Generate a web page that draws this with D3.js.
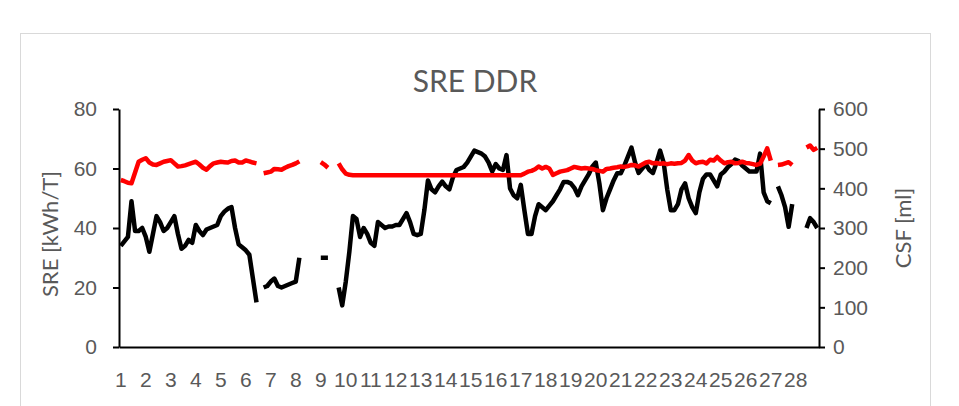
<!DOCTYPE html>
<html>
<head>
<meta charset="UTF-8">
<title>SRE DDR</title>
<script src="https://d3js.org/d3.v7.min.js"></script>
<style>
  body { margin: 0; background: #fff; }
  svg { display: block; font-family: Lato, "Liberation Sans", sans-serif; }
  .axis text { fill: #595959; font-size: 21px; }
  .axis path, .axis line { stroke: #000; stroke-width: 2; }
</style>
</head>
<body>
<div id="chart"></div>
<script>
// week labels on the category axis (one label every 7 days)
const weeks = [1, 2, 3, 4, 5, 6, 7, 8, 9, 10, 11, 12, 13, 14, 15, 16, 17, 18, 19, 20, 21, 22, 23, 24, 25, 26, 27, 28];

// SRE [kWh/T], daily, left axis
const sre = [
  34, 35.5, 37, 49, 39, 39, 40, 37, 32, 38,
  44, 42, 39, 40, 42, 44, 38, 33, 34, 36,
  35, 41, 39, 37.6, 39.5, 40, 40.5, 41, 44, 45.5,
  46.5, 47, 40, 34.5, 33.5, 32.5, 31, 23, 15, null,
  20, 20.5, 22, 23, 20.5, 20, 20.5, 21, 21.5, 22,
  30, null, null, null, null, null, 30, 30, 30, null,
  null, 20, 14, 22, 32, 44, 43, 37, 40, 38,
  35, 34, 42, 41, 40, 40.5, 40.5, 41, 41, 43,
  45, 42, 38, 37.6, 38, 46, 56, 53, 52, 54,
  55.6, 54, 53, 57, 59.5, 60, 60.5, 62, 64, 66,
  65.5, 65, 64, 62, 59, 61.5, 60, 59.5, 64.5, 53.3,
  51, 50, 54.5, 46, 38, 38, 44, 48, 47, 46,
  47.5, 49, 51, 53, 55.5, 55.5, 55, 53.5, 51, 54,
  56, 58, 60.6, 62, 55, 46, 50, 53, 56, 58.4,
  58.4, 61, 64, 67, 62, 58.5, 60, 61.5, 59.5, 58.5,
  62, 66, 62, 53, 46, 46, 48, 53, 55, 50,
  47, 45, 52, 56.5, 58, 58, 56, 54, 58, 59,
  60.5, 61.5, 63, 62.5, 61, 60, 59, 59, 59, 65,
  52, 49, 48.3, null, 54, 51, 47, 40.4, 48, null,
  null, null, 40, 43.3, 42, 40
];

// CSF [ml], daily, right axis
const csf = [
  421, 418, 414, 413, 440, 467, 472, 476, 465, 460,
  459, 463, 467, 469, 471, 463, 455, 456, 458, 461,
  464, 467, 460, 452, 447, 456, 463, 465, 467, 466,
  465, 469, 470, 465, 465, 470, 468, 465, 463, null,
  438, 440, 442, 449, 448, 447, 452, 456, 459, 463,
  468, null, null, null, null, null, 466, 460, 452, null,
  null, 463, 448, 437, 434, 433, 433, 433, 433, 433,
  433, 433, 433, 433, 433, 433, 433, 433, 433, 433,
  433, 433, 433, 433, 433, 433, 433, 433, 433, 433,
  433, 433, 433, 433, 433, 433, 433, 433, 433, 433,
  433, 433, 433, 433, 433, 433, 433, 433, 433, 433,
  433, 433, 433, 437, 442, 444, 448, 455, 450, 454,
  450, 434, 438, 442, 444, 446, 450, 454, 452, 450,
  451, 450, 449, 446, 444, 442, 449, 450, 452, 453,
  455, 454, 456, 459, 458, 455, 460, 465, 467, 463,
  464, 462, 463, 461, 463, 462, 463, 464, 470, 484,
  470, 463, 466, 467, 463, 472, 470, 479, 470, 463,
  466, 467, 463, 464, 467, 464, 463, 461, 459, 462,
  480, 501, 470, null, 459, 460, 463, 466, 459, null,
  null, null, 503, 508, 497, 502
];

const width = 959;
const height = 406;
const marginLeft = 119;
const marginRight = 140;
const marginTop = 109;
const marginBottom = 59;

const svg = d3.select("#chart")
  .append("svg")
  .attr("width", width)
  .attr("height", height);

// chart area frame
svg.append("rect")
  .attr("x", 20.5)
  .attr("y", 33.5)
  .attr("width", 910)
  .attr("height", 420)
  .attr("fill", "#fff")
  .attr("stroke", "#d9d9d9");

const x = d3.scaleBand()
  .domain(d3.range(sre.length))
  .range([marginLeft, width - marginRight]);

const yLeft = d3.scaleLinear()
  .domain([0, 80])
  .range([height - marginBottom, marginTop]);

const yRight = d3.scaleLinear()
  .domain([0, 600])
  .range([height - marginBottom, marginTop]);

const xPos = i => x(i) + x.bandwidth() / 2;

// axes
svg.append("g")
  .attr("class", "axis")
  .attr("transform", `translate(${marginLeft},0)`)
  .call(d3.axisLeft(yLeft).tickValues([0, 20, 40, 60, 80]).tickSize(6).tickSizeOuter(0).tickPadding(16));

svg.append("g")
  .attr("class", "axis")
  .attr("transform", `translate(${width - marginRight},0)`)
  .call(d3.axisRight(yRight).tickValues([0, 100, 200, 300, 400, 500, 600]).tickSize(6).tickSizeOuter(0).tickPadding(8));

const xAxis = d3.axisBottom(x)
  .tickValues(weeks.map((w, k) => k * 7))
  .tickFormat((d, k) => weeks[k])
  .tickSize(0)
  .tickSizeOuter(0)
  .tickPadding(25);

svg.append("g")
  .attr("class", "axis")
  .attr("transform", `translate(0,${height - marginBottom})`)
  .call(xAxis);

// series
const lineSre = d3.line()
  .defined(d => d != null)
  .x((d, i) => xPos(i))
  .y(d => yLeft(d));

const lineCsf = d3.line()
  .defined(d => d != null)
  .x((d, i) => xPos(i))
  .y(d => yRight(d));

svg.append("path")
  .datum(sre)
  .attr("fill", "none")
  .attr("stroke", "#000")
  .attr("stroke-width", 4.5)
  .attr("stroke-linejoin", "round")
  .attr("d", lineSre);

svg.append("path")
  .datum(csf)
  .attr("fill", "none")
  .attr("stroke", "#ff0000")
  .attr("stroke-width", 4.5)
  .attr("stroke-linejoin", "round")
  .attr("d", lineCsf);

// titles
svg.append("text")
  .attr("x", 475)
  .attr("y", 92)
  .attr("text-anchor", "middle")
  .attr("fill", "#595959")
  .attr("font-size", 30)
  .text("SRE DDR");

svg.append("text")
  .attr("transform", `translate(50,${(marginTop + height - marginBottom) / 2 + 6}) rotate(-90)`)
  .attr("text-anchor", "middle")
  .attr("dy", "0.35em")
  .attr("fill", "#595959")
  .attr("font-size", 22)
  .text("SRE [kWh/T]");

svg.append("text")
  .attr("transform", `translate(903,${(marginTop + height - marginBottom) / 2}) rotate(-90)`)
  .attr("text-anchor", "middle")
  .attr("dy", "0.35em")
  .attr("fill", "#595959")
  .attr("font-size", 22)
  .text("CSF [ml]");
</script>
</body>
</html>
